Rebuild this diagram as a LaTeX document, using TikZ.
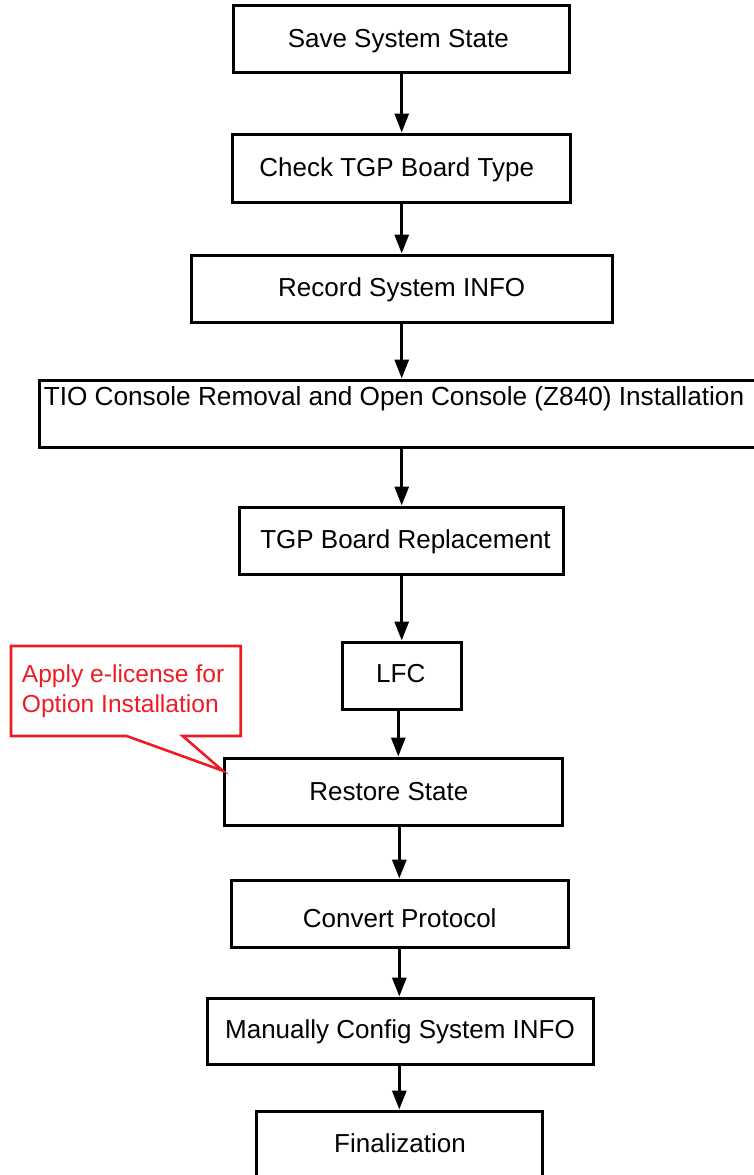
\documentclass[tikz,border=0pt]{standalone}
\usepackage{fontspec}
\setmainfont{Liberation Sans}
\usetikzlibrary{arrows.meta}
\definecolor{callred}{RGB}{237,28,36}
\tikzset{
  box/.style={draw=black, line width=3pt, fill=white, inner sep=0pt, minimum width=#1},
  box/.default=300pt,
  boxtext/.style={inner sep=0pt, anchor=base, font=\fontsize{26}{30}\selectfont},
  arr/.style={line width=3pt, -{Triangle[length=19pt,width=14pt]}},
  noteline/.style={draw=callred, line width=2.6pt, line join=miter},
  notetext/.style={inner sep=0pt, anchor=base west, align=left, text=callred, font=\fontsize{24.6}{30}\selectfont}
}
\begin{document}
\begin{tikzpicture}[x=1pt,y=-1pt]
\useasboundingbox (0,0) rectangle (753,1175);
% boxes
\node[box=336pt, minimum height=67pt] (b1) at (401,38.5) {};
\node[box=338pt, minimum height=68pt] (b2) at (401,168) {};
\node[box=421pt, minimum height=67pt] (b3) at (401.5,288.5) {};
\node[box=731pt, minimum height=67pt] (b4) at (404.5,413.5) {};
\node[box=324pt, minimum height=67pt] (b5) at (401,540.5) {};
\node[box=119pt, minimum height=67pt] (b6) at (401.5,675.5) {};
\node[box=338pt, minimum height=67pt] (b7) at (393,791.5) {};
\node[box=337pt, minimum height=67pt] (b8) at (399.5,913.5) {};
\node[box=386pt, minimum height=66pt] (b9) at (400,1031) {};
\node[box=286pt, minimum height=69pt] (b10) at (399,1145.5) {};
% texts
\node[boxtext] (t1) at (398.3,47) {Save System State};
\node[boxtext] (t2) at (396.7,176) {Check TGP Board Type};
\node[boxtext] (t3) at (401.7,296) {Record System INFO};
\node[boxtext, font=\fontsize{26.2}{30}\selectfont] (t4) at (394,405) {TIO Console Removal and Open Console (Z840) Installation};
\node[boxtext] (t5) at (405.5,548) {TGP Board Replacement};
\node[boxtext] (t6) at (400.8,682) {LFC};
\node[boxtext] (t7) at (388.8,800) {Restore State};
\node[boxtext] (t8) at (399.7,927) {Convert Protocol};
\node[boxtext] (t9) at (400,1038) {Manually Config System INFO};
\node[boxtext] (t10) at (400,1152) {Finalization};
% arrow columns
\coordinate (ca) at (401.7,0);
\coordinate (cb) at (398.3,0);
\coordinate (cc) at (399.3,0);
\draw[arr] (b1.south -| ca) -- (b2.north -| ca);
\draw[arr] (b2.south -| ca) -- (b3.north -| ca);
\draw[arr] (b3.south -| ca) -- (b4.north -| ca);
\draw[arr] (b4.south -| ca) -- (b5.north -| ca);
\draw[arr] (b5.south -| ca) -- (b6.north -| ca);
\draw[arr] (b6.south -| cb) -- (b7.north -| cb);
\draw[arr] (b7.south -| cc) -- (b8.north -| cc);
\draw[arr] (b8.south -| cc) -- (b9.north -| cc);
\draw[arr] (b9.south -| cc) -- (b10.north -| cc);
% callout
\coordinate (tip) at (222.7,770.7);
\draw[noteline] (11,646) -- (240.7,646) -- (240.7,736) -- (182.7,736) -- (tip) -- (126.7,736) -- (11,736) -- cycle;
\node[notetext] (note) at (21.7,712) {Apply e-license for\\Option Installation};
\end{tikzpicture}
\end{document}
